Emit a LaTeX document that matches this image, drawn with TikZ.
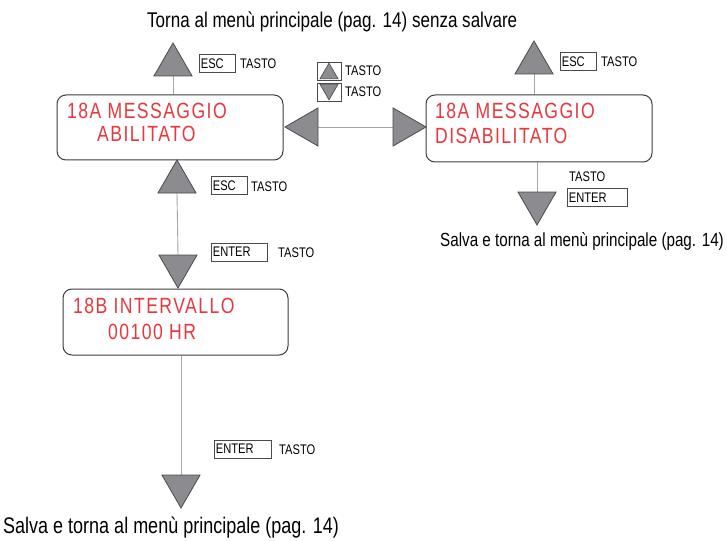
\documentclass[tikz,border=0pt]{standalone}
\usepackage{fontspec}
\setmainfont{Liberation Sans}[FakeStretch=0.8]
\newfontfamily\lcdfamily{Liberation Sans}[FakeStretch=0.8,LetterSpace=6.5]
\usetikzlibrary{shapes.geometric}
\definecolor{lcdred}{HTML}{E8383D}
\definecolor{trifill}{HTML}{8C8C90}
\definecolor{triline}{HTML}{4A4A4A}
\definecolor{connline}{HTML}{A6A6A6}
\definecolor{boxline}{HTML}{3C3C3C}
\newcommand\kfont{\fontsize{13.9pt}{16pt}\selectfont}
\tikzset{
 tri/.style={regular polygon, regular polygon sides=3, minimum size=44pt, inner sep=0pt, outer sep=0pt, draw=triline, fill=trifill, line width=0.8pt},
 tridown/.style={tri, shape border rotate=180},
 trileft/.style={tri, shape border rotate=90},
 triright/.style={tri, shape border rotate=-90},
 smalltri/.style={minimum size=21pt, line width=0.6pt},
 conn/.style={draw=connline, line width=0.9pt},
 lcdbox/.style={draw=boxline, line width=1pt, rounded corners=9pt, minimum width=226pt, minimum height=65pt, inner sep=0pt},
 lcdtext/.style={anchor=base west, inner sep=0pt, text=lcdred, font=\lcdfamily\fontsize{22pt}{24pt}\selectfont},
 keybox/.style={draw=triline, line width=0.7pt, anchor=west, inner xsep=1.5pt, inner ysep=0pt, minimum height=18pt, text width=#1, align=left, font=\kfont},
 legbox/.style={draw=triline, line width=0.7pt, minimum width=24pt, minimum height=18pt, inner sep=0pt},
 keylabel/.style={anchor=base west, inner sep=0pt, font=\kfont},
 note/.style={anchor=base west, inner sep=0pt},
}
\begin{document}
\begin{tikzpicture}[x=1pt,y=-1pt]
\fill[white] (0,0) rectangle (727,540);
\useasboundingbox (0,0) rectangle (727,540);

% top note
\node[note, font=\fontsize{21.3pt}{24pt}\selectfont] (ntop) at (147,28) {Torna al menù principale (pag. 14) senza salvare};

% LCD boxes
\node[lcdbox] (A) at (170,127.5) {};
\node[lcdbox, minimum height=67pt] (B) at (539,128.5) {};
\node[lcdbox, minimum width=225pt, minimum height=66pt] (C) at (175.5,322) {};

\node[lcdtext] (A1) at (67,119) {18A MESSAGGIO};
\node[lcdtext] (A2) at (97,142) {ABILITATO};
\node[lcdtext] (B1) at (435,119) {18A MESSAGGIO};
\node[lcdtext] (B2) at (435,143) {DISABILITATO};
\node[lcdtext] (C1) at (73,313) {18B INTERVALLO};
\node[lcdtext] (C2) at (108,339) {00100 HR};

% connectors
\coordinate (tAb) at (173,76);
\coordinate (tBb) at (534,74);
\draw[conn] (tAb) -- (tAb |- A.north);
\draw[conn] (tBb) -- (tBb |- B.north);
\draw[conn] (318,127) coordinate (tLb) -- (393,127) coordinate (tRb);
\draw[conn] (537,192) coordinate (tBdb) -- (tBdb |- B.south);
\draw[conn] (177,193) coordinate (tAub) -- (178,255) coordinate (tAdb);
\draw[conn] (181,475) coordinate (tCdb) -- (tCdb |- C.south);

% triangles
\node[tri] (tA) at (173,65) {};
\node[tri] (tB) at (534,63) {};
\node[trileft] (tL) at (307,127) {};
\node[triright] (tR) at (404,127) {};
\node[tridown] (tBd) at (537,203) {};
\node[tri] (tAu) at (177,182) {};
\node[tridown] (tAd) at (178,266) {};
\node[tridown] (tCd) at (181,486) {};

% key boxes and labels
\node[keybox=33pt] (k1) at (199,63.5) {ESC};
\node[keylabel] (l1) at (240,69) {TASTO};
\node[keybox=33pt] (k2) at (560,61.5) {ESC};
\node[keylabel] (l2) at (601,67) {TASTO};

\node[legbox] (lu) at (329,71) {};
\node[tri, smalltri] (lut) at (329,73.6) {};
\node[keylabel] (l3) at (345,76) {TASTO};
\node[legbox] (ld) at (329,92) {};
\node[tridown, smalltri] (ldt) at (329,89.4) {};
\node[keylabel] (l4) at (345,97) {TASTO};

\node[keybox=33pt] (k3) at (211,185.5) {ESC};
\node[keylabel] (l5) at (251,191) {TASTO};
\node[keybox=53pt] (k4) at (211,252) {ENTER};
\node[keylabel] (l6) at (278,257) {TASTO};

\node[keylabel] (l7) at (569,181) {TASTO};
\node[keybox=57pt] (k5) at (567,197.5) {ENTER};

\node[keybox=54pt] (k6) at (214,449) {ENTER};
\node[keylabel] (l8) at (279,454) {TASTO};

% notes
\node[note, font=\fontsize{19pt}{22pt}\selectfont] (nright) at (440,246) {Salva e torna al menù principale (pag. 14)};
\node[note, font=\fontsize{22.5pt}{25pt}\selectfont] (nbottom) at (3,533) {Salva e torna al menù principale (pag. 14)};
\end{tikzpicture}
\end{document}
